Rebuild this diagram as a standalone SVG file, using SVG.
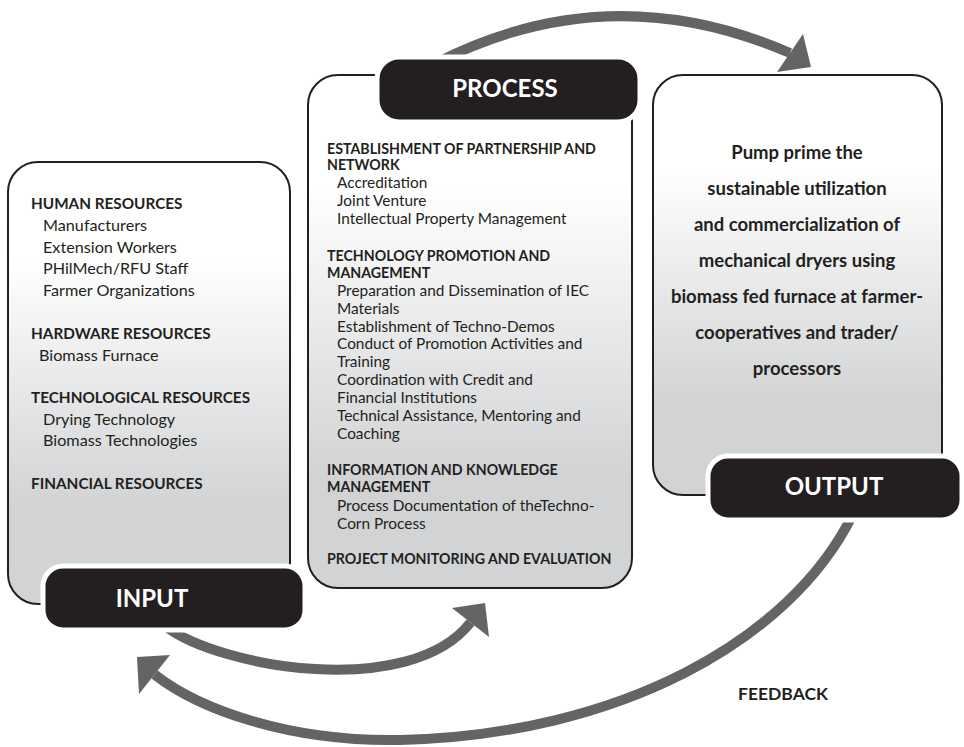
<svg xmlns="http://www.w3.org/2000/svg" width="964" height="747" viewBox="0 0 964 747">
  <defs>
    <linearGradient id="boxFill" x1="0" y1="0" x2="0" y2="1">
      <stop offset="0" stop-color="#ffffff"/>
      <stop offset="0.22" stop-color="#ffffff"/>
      <stop offset="0.78" stop-color="#d2d3d5"/>
      <stop offset="1" stop-color="#d2d3d5"/>
    </linearGradient>
    <style>
      .box { fill: url(#boxFill); stroke: #231f20; stroke-width: 2; }
      .tag { fill: #231f20; stroke: #ffffff; stroke-width: 5; }
      .tagText { font-family: Lato, "Open Sans", sans-serif; font-weight: 700; font-size: 24px; fill: #ffffff; text-anchor: middle; }
      .h1 { font-family: Lato, "Open Sans", sans-serif; font-weight: 700; font-size: 15.3px; fill: #231f20; }
      .r1 { font-family: Lato, "Open Sans", sans-serif; font-weight: 400; font-size: 16.2px; fill: #231f20; }
      .h2 { font-family: Lato, "Open Sans", sans-serif; font-weight: 700; font-size: 14.2px; fill: #231f20; }
      .r2 { font-family: Lato, "Open Sans", sans-serif; font-weight: 400; font-size: 15.4px; fill: #231f20; }
      .out { font-family: Lato, "Open Sans", sans-serif; font-weight: 700; font-size: 18.5px; fill: #231f20; text-anchor: middle; }
      .shaft { fill: none; stroke: #636466; stroke-width: 10; stroke-linecap: butt; }
      .head { fill: #636466; }
      .fb { font-family: Lato, "Open Sans", sans-serif; font-weight: 700; font-size: 17.5px; fill: #231f20; }
    </style>
  </defs>

  <!-- curved block arrows between stages -->
  <g id="connectors">
    <path class="shaft" d="M 438,62 Q 610,-25 790,53"/>
    <polygon class="head" points="803,34 777,72 811,67"/>
    <path class="shaft" d="M 165,626 C 220,668 410,700 470.5,622.5"/>
    <polygon class="head" points="452,608 489,637 485,603"/>
    <path class="shaft" d="M 852,516 C 790,640 620,735 400,740 C 290,742 200,710 154.5,674.5"/>
    <polygon class="head" points="137,657 170,655 139,694"/>
  </g>

  <g id="input">
    <rect class="box" x="8" y="162" width="282" height="442" rx="30" ry="30"/>
    <text class="h1" x="31" y="209">HUMAN RESOURCES</text>
    <text class="r1" x="43" y="231">Manufacturers</text>
    <text class="r1" x="43" y="253">Extension Workers</text>
    <text class="r1" x="43" y="274">PHilMech/RFU Staff</text>
    <text class="r1" x="43" y="296">Farmer Organizations</text>
    <text class="h1" x="31" y="339">HARDWARE RESOURCES</text>
    <text class="r1" x="39" y="361">Biomass Furnace</text>
    <text class="h1" x="31" y="403">TECHNOLOGICAL RESOURCES</text>
    <text class="r1" x="43" y="425">Drying Technology</text>
    <text class="r1" x="43" y="446">Biomass Technologies</text>
    <text class="h1" x="31" y="489">FINANCIAL RESOURCES</text>
    <rect class="tag" x="43" y="566" width="262" height="64" rx="20" ry="20"/>
    <text class="tagText" x="152" y="607">INPUT</text>
  </g>

  <g id="process">
    <rect class="box" x="308" y="75" width="324" height="513" rx="30" ry="30"/>
    <rect class="tag" x="377" y="57" width="263" height="65" rx="22" ry="22"/>
    <text class="tagText" x="505" y="97">PROCESS</text>
    <text class="h2" x="327" y="154">ESTABLISHMENT OF PARTNERSHIP AND</text>
    <text class="h2" x="327" y="170">NETWORK</text>
    <text class="r2" x="337" y="188">Accreditation</text>
    <text class="r2" x="337" y="206">Joint Venture</text>
    <text class="r2" x="337" y="224">Intellectual Property Management</text>
    <text class="h2" x="327" y="261">TECHNOLOGY PROMOTION AND</text>
    <text class="h2" x="327" y="278">MANAGEMENT</text>
    <text class="r2" x="337" y="296">Preparation and Dissemination of IEC</text>
    <text class="r2" x="337" y="314">Materials</text>
    <text class="r2" x="337" y="332">Establishment of Techno-Demos</text>
    <text class="r2" x="337" y="349">Conduct of Promotion Activities and</text>
    <text class="r2" x="337" y="367">Training</text>
    <text class="r2" x="337" y="385">Coordination with Credit and</text>
    <text class="r2" x="337" y="403">Financial Institutions</text>
    <text class="r2" x="337" y="421">Technical Assistance, Mentoring and</text>
    <text class="r2" x="337" y="439">Coaching</text>
    <text class="h2" x="327" y="475">INFORMATION AND KNOWLEDGE</text>
    <text class="h2" x="327" y="492">MANAGEMENT</text>
    <text class="r2" x="337" y="511">Process Documentation of theTechno-</text>
    <text class="r2" x="337" y="529">Corn Process</text>
    <text class="h2" x="327" y="564">PROJECT MONITORING AND EVALUATION</text>
  </g>

  <g id="output">
    <rect class="box" x="653" y="75" width="289" height="420" rx="30" ry="30"/>
    <text class="out" x="797" y="159">Pump prime the</text>
    <text class="out" x="797" y="195">sustainable utilization</text>
    <text class="out" x="797" y="231">and commercialization of</text>
    <text class="out" x="797" y="267">mechanical dryers using</text>
    <text class="out" x="797" y="303">biomass fed furnace at farmer-</text>
    <text class="out" x="797" y="339">cooperatives and trader/</text>
    <text class="out" x="797" y="375">processors</text>
    <rect class="tag" x="708" y="456" width="254" height="64" rx="20" ry="20"/>
    <text class="tagText" x="834" y="495">OUTPUT</text>
  </g>

  <g id="feedback">
    <text class="fb" x="738" y="700">FEEDBACK</text>
  </g>
</svg>
